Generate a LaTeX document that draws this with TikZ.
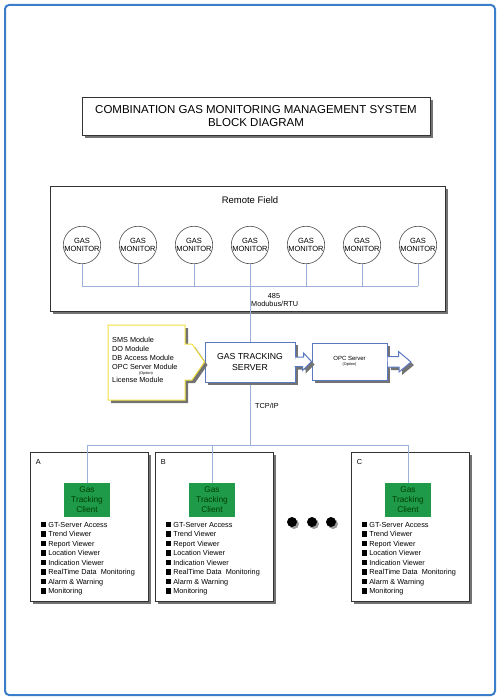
\documentclass[tikz,border=0pt]{standalone}
\usepackage{fontspec}
\setmainfont{Liberation Sans}
\usetikzlibrary{shadows,calc}

\definecolor{frameblue}{HTML}{3A7DC9}
\definecolor{wireblue}{HTML}{9DB0DA}
\definecolor{serverblue}{HTML}{5A78C2}
\definecolor{clientgreen}{HTML}{1E9A48}
\definecolor{moduleyellow}{HTML}{F0E040}

\newcommand{\fsz}[1]{\fontsize{#1}{#1}\selectfont}
\newcommand{\sqbullet}{\rule{5.5pt}{5.5pt}\ }
\newcommand{\clientlist}{%
  \sqbullet GT-Server Access\\
  \sqbullet Trend Viewer\\
  \sqbullet Report Viewer\\
  \sqbullet Location Viewer\\
  \sqbullet Indication Viewer\\
  \sqbullet RealTime Data\ \ Monitoring\\
  \sqbullet Alarm \& Warning\\
  \sqbullet Monitoring}

\begin{document}
\begin{tikzpicture}[x=1pt,y=-1pt,
    shadowed/.style={drop shadow={shadow xshift=3pt,shadow yshift=-3pt,fill=black!55,opacity=1}},
    box/.style={draw=black!80,line width=0.8pt,fill=white,shadowed},
    monitor/.style={circle,draw=black!70,line width=0.6pt,fill=white,minimum size=36pt,inner sep=0pt,align=center,font=\fsz{7.5}},
    wire/.style={draw=wireblue,line width=0.7pt},
    bluebox/.style={draw=serverblue,line width=1pt,fill=white,shadowed,align=center},
    client/.style={box,minimum width=118pt,minimum height=149pt},
    gtc/.style={fill=clientgreen,minimum width=46pt,minimum height=34pt,inner sep=0pt,align=center,text=black!75!green,font=\fontsize{8.3}{10}\selectfont},
    label/.style={inner sep=0pt,font=\fsz{7.3}},
  ]
    \useasboundingbox (0,0) rectangle (500,700);

    % outer frame
    \draw[frameblue,line width=2pt,rounded corners=4pt] (5,5) rectangle (495,695);

    % title
    \node[box,minimum width=348pt,minimum height=38pt,align=center,font=\fontsize{11.5}{13}\selectfont] (title) at (256,116)
        {COMBINATION GAS MONITORING MANAGEMENT SYSTEM\\BLOCK DIAGRAM};

    % remote field
    \node[box,minimum width=395pt,minimum height=125pt] (field) at (247.5,248.5) {};
    \node[inner sep=0pt,font=\fsz{9.5}] (fieldlabel) at (250,200) {Remote Field};

    \foreach \i in {1,...,7}
        \node[monitor] (m\i) at ({82+56*(\i-1)},245) {GAS\\MONITOR};

    \coordinate (busL) at (82,286);
    \coordinate (busR) at (418,286);
    \coordinate (lanC) at (250,445);
    \coordinate (lanL) at (88,445);
    \coordinate (lanR) at (408,445);

    \foreach \i in {1,...,7}
        \draw[wire] (m\i.south) -- (m\i.south |- busL);
    \draw[wire] (busL) -- (busR);
    \draw[wire] (m4.south) -- (lanC);

    \node[label] (rs485) at (274,296) {485};
    \node[label,anchor=west] (modbus) at (251,304) {Modubus/RTU};
    \node[label,anchor=west] (tcpip) at (255,406) {TCP/IP};

    % server
    \node[bluebox,minimum width=90pt,minimum height=40pt,font=\fontsize{8.7}{11}\selectfont] (srv) at (250,362)
        {GAS TRACKING\\SERVER};
    \node[bluebox,minimum width=75pt,minimum height=37pt,font=\fontsize{6}{5}\selectfont] (opc) at (349.5,361.5)
        {OPC Server\\{\fsz{3.8}(Option)}};
    \coordinate (opcout) at (411,362);

    \draw[serverblue,line width=1pt,fill=white,shadowed]
        ($(srv.east)+(0,-5)$) -- ++(8,0) -- ++(0,-4) -- (opc.west) -- ++(-9,9) -- ++(0,-4) -- ++(-8,0);
    \draw[serverblue,line width=1pt,fill=white,shadowed]
        ($(opc.east)+(0,-5)$) -- ++(11,0) -- ++(0,-5) -- (opcout) -- ++(-12,10) -- ++(0,-5) -- ++(-11,0);

    % modules
    \draw[moduleyellow,line width=1pt,fill=white,shadowed]
        (108,325) -- (185,325) -- (185,344) -- (192,344) -- (srv.west) -- (192,380) -- (185,380) -- (185,400) -- (108,400) -- cycle;
    \node[anchor=north west,inner sep=0pt,align=left,font=\fontsize{7.3}{9}\selectfont] (modules) at (112,337)
        {SMS Module\\DO Module\\DB Access Module\\OPC Server Module\\[-3.5pt]%
         \hspace*{27pt}{\fsz{3.8}(Option)}\\[-1pt]License Module};

    % clients
    \foreach \n/\x in {A/89,B/214,C/410} {
        \node[client] (c\n) at (\x,526.5) {};
        \node[label,anchor=north west] (l\n) at ($(c\n.north west)+(6,8)$) {\n};
        \node[gtc] (g\n) at (\x-2,500) {Gas\\Tracking\\Client};
        \node[anchor=north west,inner sep=0pt,align=left,font=\fontsize{7.3}{9.5}\selectfont] (list\n) at ($(c\n.north west)+(11,70)$) {\clientlist};
    }

    \draw[wire] (lanL) -- (lanR);
    \foreach \n in {A,B,C}
        \draw[wire] (g\n.north |- lanL) -- (g\n.north);

    % more clients
    \foreach \i/\x in {1/292,2/312,3/331}
        \node[circle,fill=black,minimum size=10pt,inner sep=0pt,drop shadow={shadow xshift=2pt,shadow yshift=-2pt,fill=black!40,opacity=1}] (dot\i) at (\x,522) {};
\end{tikzpicture}
\end{document}
